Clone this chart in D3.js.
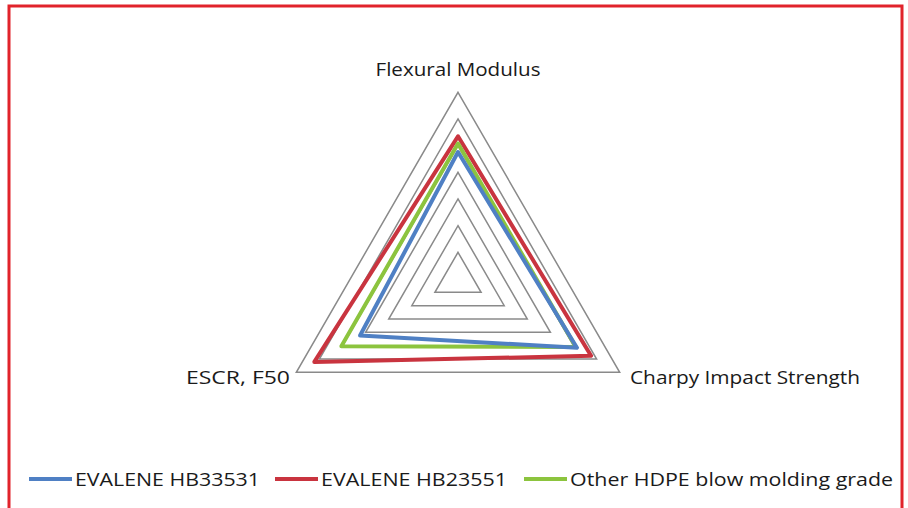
<!DOCTYPE html>
<html>
<head>
<meta charset="utf-8">
<script src="https://cdn.jsdelivr.net/npm/d3@7"></script>
<style>
  body { margin: 0; background: #fff; }
  svg { display: block; }
  text { font-family: "Open Sans", Lato, sans-serif; fill: #1a1a1a; }
</style>
</head>
<body>
<div id="chart"></div>
<script>
var axes = ['Flexural Modulus', 'Charpy Impact Strength', 'ESCR, F50'];
var seriesNames = ['EVALENE HB33531', 'EVALENE HB23551', 'Other HDPE blow molding grade'];
var blueValues = [4.76, 5.15, 4.24];
var redValues = [5.35, 5.76, 6.22];
var greenValues = [5.08, 5.1, 5.05];
var gridLevels = [1, 2, 3, 4, 5, 6, 7];
var colors = ['#4f80c4', '#c9343f', '#8cc43e'];

var width = 908, height = 508;
var cx = 458, cy = 279;

var svg = d3.select('#chart').append('svg')
  .attr('width', width)
  .attr('height', height);

// red frame
svg.append('rect')
  .attr('x', 9).attr('y', 6)
  .attr('width', 893).attr('height', 520)
  .attr('fill', 'none')
  .attr('stroke', '#e1232b')
  .attr('stroke-width', 3);

var r = d3.scaleLinear().domain([0, 7]).range([0, 186.7]);
var angle = function(i) { return -Math.PI / 2 + i * 2 * Math.PI / axes.length; };

var radar = d3.lineRadial()
  .angle(function(d, i) { return angle(i) + Math.PI / 2; })
  .radius(function(d) { return r(d); })
  .curve(d3.curveLinearClosed);

var g = svg.append('g').attr('transform', 'translate(' + cx + ',' + cy + ')');

g.selectAll('path.grid').data(gridLevels).enter().append('path')
  .attr('class', 'grid')
  .attr('d', function(l) { return radar(axes.map(function() { return l; })); })
  .attr('fill', 'none')
  .attr('stroke', '#8a8a8a')
  .attr('stroke-width', 1.5);

var series = [blueValues, redValues, greenValues];
var drawOrder = [1, 2, 0];
g.selectAll('path.series').data(drawOrder).enter().append('path')
  .attr('class', 'series')
  .attr('d', function(k) { return radar(series[k]); })
  .attr('fill', 'none')
  .attr('stroke', function(k) { return colors[k]; })
  .attr('stroke-width', 4)
  .attr('stroke-linejoin', 'round');

// axis labels
var labelPos = [
  { x: 0, y: -203, anchor: 'middle', w: 165 },
  { x: 172, y: 105, anchor: 'start', w: 230 },
  { x: -168, y: 105, anchor: 'end', w: 104 }
];
g.selectAll('text.axis').data(axes).enter().append('text')
  .attr('class', 'axis')
  .attr('x', function(d, i) { return labelPos[i].x; })
  .attr('y', function(d, i) { return labelPos[i].y; })
  .attr('text-anchor', function(d, i) { return labelPos[i].anchor; })
  .attr('textLength', function(d, i) { return labelPos[i].w; })
  .attr('lengthAdjust', 'spacingAndGlyphs')
  .style('font-size', '19px')
  .text(function(d) { return d; });

// legend
var legendX = [29, 275, 524];
var legendW = [185, 186, 323];
var lg = svg.selectAll('g.legend').data(seriesNames).enter().append('g')
  .attr('class', 'legend')
  .attr('transform', function(d, i) { return 'translate(' + legendX[i] + ',479)'; });
lg.append('line')
  .attr('x1', 0).attr('x2', 43)
  .attr('stroke', function(d, i) { return colors[i]; })
  .attr('stroke-width', 4);
lg.append('text')
  .attr('x', 46).attr('y', 7)
  .attr('textLength', function(d, i) { return legendW[i]; })
  .attr('lengthAdjust', 'spacingAndGlyphs')
  .style('font-size', '19px')
  .text(function(d) { return d; });
</script>
</body>
</html>
